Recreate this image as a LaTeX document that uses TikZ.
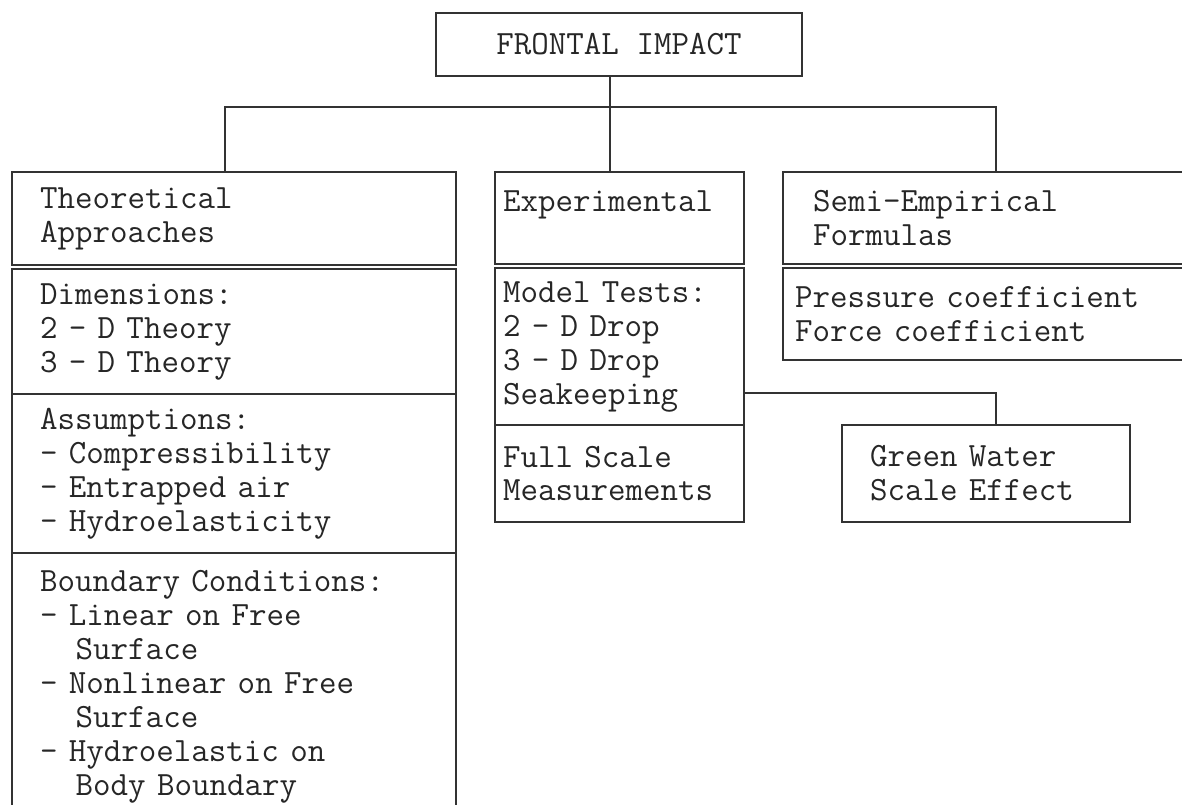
\documentclass[tikz,border=0pt]{standalone}
\usepackage{tikz}
\tikzset{
    cell/.style={draw=black!80, line width=1pt, anchor=north west, align=left,
        inner ysep=0pt, outer sep=0pt, text=black!85,
        font=\ttfamily\fontsize{17}{17}\selectfont},
    theo/.style={cell, text width=194pt, inner xsep=14pt},
    expt/.style={cell, text width=116.5pt, inner xsep=4pt},
    semi/.style={cell, text width=178.5pt, inner xsep=15pt},
    title/.style={cell, align=center, minimum width=183pt, minimum height=31.5pt},
    link/.style={draw=black!80, line width=1pt} }
\usetikzlibrary{calc}
\newcommand{\contind}{\hspace*{1.05em}}

\begin{document}
\begin{tikzpicture}[x=0.5pt, y=-0.5pt]
      \useasboundingbox (0,0) rectangle (1182,804);
      \node[title] (top) at (436,13) {FRONTAL IMPACT};
      % ----
      \node[theo, minimum height=46.5pt] (thead) at (12,172) {Theoretical\\Approaches};
      \node[theo, minimum height=62.5pt] (tdim) at ([yshift=-2pt]thead.south west)
          {Dimensions:\\2 - D Theory\\3 - D Theory};
      \node[theo, minimum height=79.5pt] (tass) at (tdim.south west)
          {Assumptions:\\- Compressibility\\- Entrapped air\\- Hydroelasticity};
      \node[theo, minimum height=134pt] (tbnd) at (tass.south west)
          {Boundary Conditions:\\- Linear on Free\\\contind Surface\\- Nonlinear on Free\\%
           \contind Surface\\- Hydroelastic on\\\contind Body Boundary};
      % ----
      \node[expt, minimum height=46pt] (ehead) at (495,172) {Experimental\\\mbox{}};
      \node[expt, minimum height=78.5pt] (emodel) at ([yshift=-2pt]ehead.south west)
          {Model Tests:\\2 - D Drop\\3 - D Drop\\Seakeeping};
      \node[expt, minimum height=48.5pt] (efull) at (emodel.south west)
          {Full Scale\\Measurements};
      % ----
      \node[semi, minimum height=46pt] (shead) at (783,172) {Semi-Empirical\\Formulas};
      \node[semi, text width=196.5pt, inner xsep=6pt, minimum height=46pt] (scoef)
          at ([yshift=-2pt]shead.south west) {Pressure coefficient\\Force coefficient};
      % ----
      \node[cell, text width=116pt, inner xsep=14pt, minimum height=48.5pt] (green)
          at (842,425) {Green Water\\Scale Effect};
      % ----
      \coordinate (hub) at (610,107);
      \coordinate (hubL) at (225,107);
      \coordinate (hubR) at (996,107);
      \coordinate (gw) at (996,393);
      \path[link] (top.south -| hub) -- (hub) -- (hub |- ehead.north);
      \path[link] (hubL |- thead.north) -- (hubL) -- (hubR) -- (hubR |- shead.north);
      \path[link] (gw -| emodel.east) -- (gw) -- (gw |- green.north);
\end{tikzpicture}
\end{document}
